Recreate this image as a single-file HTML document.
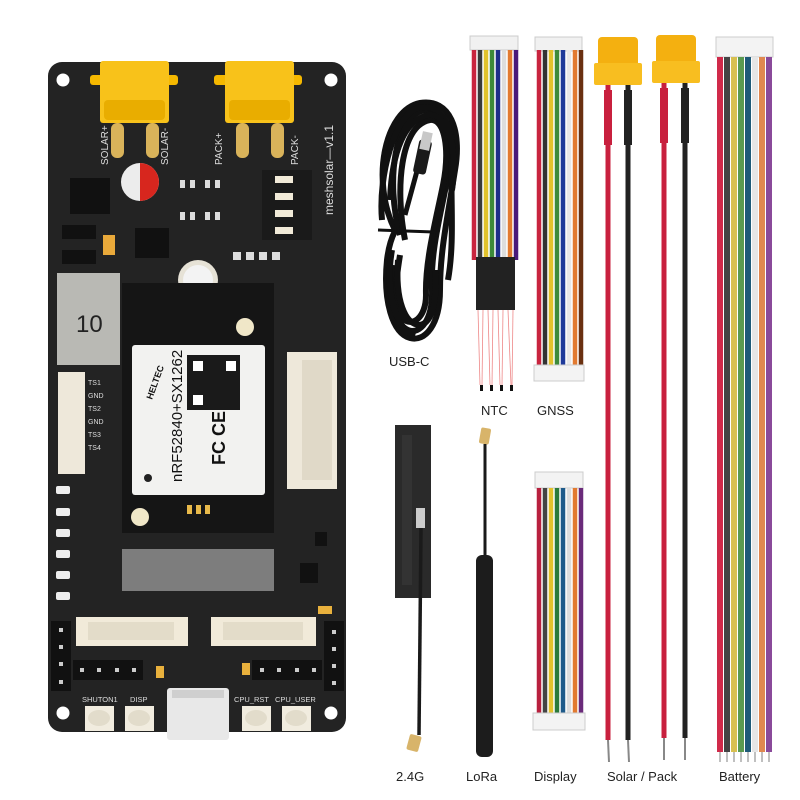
<!DOCTYPE html>
<html><head><meta charset="utf-8"><style>
html,body{margin:0;padding:0;background:#fff;}
svg{display:block;}
text{font-family:"Liberation Sans",sans-serif;}
</style></head><body>
<svg width="800" height="800" viewBox="0 0 800 800" xmlns="http://www.w3.org/2000/svg">
<rect width="800" height="800" fill="#fff"/>

<!-- BOARD -->
<rect x="48" y="62" width="298" height="670" rx="14" fill="#232323"/>
<circle cx="63" cy="80" r="6.5" fill="#fff"/><circle cx="331" cy="80" r="6.5" fill="#fff"/>
<circle cx="63" cy="713" r="6.5" fill="#fff"/><circle cx="331" cy="713" r="6.5" fill="#fff"/>

<g>
 <rect x="90" y="75" width="88" height="10" rx="3" fill="#f5b800"/>
 <rect x="100" y="61" width="69" height="62" rx="3" fill="#f8c21a"/>
 <rect x="104" y="100" width="61" height="20" rx="4" fill="#e9ad00"/>
 <rect x="111" y="123" width="13" height="35" rx="6" fill="#d9b35a"/>
 <rect x="146" y="123" width="13" height="35" rx="6" fill="#d9b35a"/>
 <rect x="214" y="75" width="88" height="10" rx="3" fill="#f5b800"/>
 <rect x="225" y="61" width="69" height="62" rx="3" fill="#f8c21a"/>
 <rect x="229" y="100" width="61" height="20" rx="4" fill="#e9ad00"/>
 <rect x="236" y="123" width="13" height="35" rx="6" fill="#d9b35a"/>
 <rect x="271" y="123" width="13" height="35" rx="6" fill="#d9b35a"/>
</g>
<text x="0" y="0" transform="translate(108,165) rotate(-90)" font-size="10" fill="#ddd">SOLAR+</text>
<text x="0" y="0" transform="translate(168,165) rotate(-90)" font-size="10" fill="#ddd">SOLAR-</text>
<text x="0" y="0" transform="translate(222,165) rotate(-90)" font-size="10" fill="#ddd">PACK+</text>
<text x="0" y="0" transform="translate(298,165) rotate(-90)" font-size="10" fill="#ddd">PACK-</text>
<text x="0" y="0" transform="translate(333,215) rotate(-90)" font-size="12" fill="#ddd">meshsolar—v1.1</text>

<rect x="70" y="178" width="40" height="36" fill="#111"/>
<rect x="62" y="225" width="34" height="14" fill="#111"/><rect x="62" y="250" width="34" height="14" fill="#111"/>
<rect x="103" y="235" width="12" height="20" fill="#e9a93a"/>
<rect x="135" y="228" width="34" height="30" fill="#111"/>
<circle cx="140" cy="182" r="19" fill="#ececec"/>
<path d="M140 163 A19 19 0 0 1 140 201 Z" fill="#d7261e"/>
<g fill="#ddd"><rect x="180" y="180" width="5" height="8"/><rect x="190" y="180" width="5" height="8"/><rect x="205" y="180" width="5" height="8"/><rect x="215" y="180" width="5" height="8"/>
<rect x="180" y="212" width="5" height="8"/><rect x="190" y="212" width="5" height="8"/><rect x="205" y="212" width="5" height="8"/><rect x="215" y="212" width="5" height="8"/>
<rect x="233" y="252" width="8" height="8"/><rect x="246" y="252" width="8" height="8"/><rect x="259" y="252" width="8" height="8"/><rect x="272" y="252" width="8" height="8"/></g>
<rect x="262" y="170" width="50" height="70" fill="#1a1a1a"/>
<g fill="#f1ead8"><rect x="275" y="176" width="18" height="7"/><rect x="275" y="193" width="18" height="7"/><rect x="275" y="210" width="18" height="7"/><rect x="275" y="227" width="18" height="7"/></g>
<rect x="57" y="273" width="63" height="92" fill="#b9b9b4"/>
<text x="76" y="332" font-size="24" fill="#222">10</text>
<circle cx="198" cy="280" r="20" fill="#e6e2d6"/><circle cx="198" cy="280" r="15" fill="#f3f3f3"/>
<rect x="122" y="283" width="152" height="250" fill="#151515"/>
<rect x="132" y="345" width="133" height="150" rx="3" fill="#f2f2f0"/>
<circle cx="245" cy="327" r="9" fill="#f0e7c8"/><circle cx="140" cy="517" r="9" fill="#f0e7c8"/>
<text x="0" y="0" transform="translate(182,482) rotate(-90)" font-size="15" fill="#111">nRF52840+SX1262</text>
<text x="0" y="0" transform="translate(152,400) rotate(-70)" font-size="9" font-weight="bold" fill="#111">HELTEC</text>
<rect x="187" y="355" width="53" height="55" fill="#1a1a1a"/>
<rect x="193" y="361" width="10" height="10" fill="#fff"/><rect x="226" y="361" width="10" height="10" fill="#fff"/><rect x="193" y="395" width="10" height="10" fill="#fff"/>
<text x="0" y="0" transform="translate(225,465) rotate(-90)" font-size="18" font-weight="bold" fill="#111">FC CE</text>
<circle cx="148" cy="478" r="4" fill="#222"/>
<g fill="#e8b94a"><rect x="187" y="505" width="5" height="9"/><rect x="196" y="505" width="5" height="9"/><rect x="205" y="505" width="5" height="9"/></g>
<rect x="122" y="549" width="152" height="42" fill="#7d7d7d"/>
<rect x="287" y="352" width="50" height="137" fill="#eee8da"/>
<rect x="302" y="360" width="30" height="120" fill="#e0d9c8"/>
<rect x="58" y="372" width="27" height="102" fill="#eee8da"/>
<g fill="#ddd" font-size="7"><text x="88" y="385">TS1</text><text x="88" y="398">GND</text><text x="88" y="411">TS2</text><text x="88" y="424">GND</text><text x="88" y="437">TS3</text><text x="88" y="450">TS4</text></g>
<g fill="#eee"><rect x="56" y="486" width="14" height="8" rx="2"/><rect x="56" y="508" width="14" height="8" rx="2"/><rect x="56" y="529" width="14" height="8" rx="2"/><rect x="56" y="550" width="14" height="8" rx="2"/><rect x="56" y="571" width="14" height="8" rx="2"/><rect x="56" y="592" width="14" height="8" rx="2"/></g>
<rect x="315" y="532" width="12" height="14" fill="#111"/><rect x="300" y="563" width="18" height="20" fill="#111"/>
<rect x="318" y="606" width="14" height="8" fill="#e9b13d"/>
<rect x="76" y="617" width="112" height="29" fill="#f1ead9"/>
<rect x="88" y="622" width="86" height="18" fill="#e3dcc9"/>
<rect x="211" y="617" width="105" height="29" fill="#f1ead9"/>
<rect x="223" y="622" width="80" height="18" fill="#e3dcc9"/>
<rect x="51" y="621" width="20" height="70" fill="#111"/>
<rect x="324" y="621" width="20" height="70" fill="#111"/>
<rect x="73" y="660" width="70" height="20" fill="#111"/>
<rect x="252" y="660" width="70" height="20" fill="#111"/>
<g fill="#ccc"><rect x="59" y="628" width="4" height="4"/><rect x="59" y="645" width="4" height="4"/><rect x="59" y="662" width="4" height="4"/><rect x="59" y="680" width="4" height="4"/>
<rect x="332" y="630" width="4" height="4"/><rect x="332" y="647" width="4" height="4"/><rect x="332" y="664" width="4" height="4"/><rect x="332" y="681" width="4" height="4"/>
<rect x="80" y="668" width="4" height="4"/><rect x="97" y="668" width="4" height="4"/><rect x="115" y="668" width="4" height="4"/><rect x="132" y="668" width="4" height="4"/>
<rect x="260" y="668" width="4" height="4"/><rect x="277" y="668" width="4" height="4"/><rect x="295" y="668" width="4" height="4"/><rect x="312" y="668" width="4" height="4"/></g>
<rect x="156" y="666" width="8" height="12" fill="#e9b13d"/><rect x="242" y="663" width="8" height="12" fill="#e9b13d"/>
<g fill="#ddd" font-size="7.5"><text x="82" y="702">SHUTON1</text><text x="130" y="702">DISP</text><text x="234" y="702">CPU_RST</text><text x="275" y="702">CPU_USER</text></g>
<rect x="167" y="688" width="62" height="52" rx="3" fill="#e8e8e8"/>
<rect x="172" y="690" width="52" height="8" fill="#cfcfcf"/>
<g><rect x="85" y="706" width="29" height="25" fill="#f1ecdf"/><ellipse cx="99" cy="718" rx="11" ry="8" fill="#e2dccb"/>
<rect x="125" y="706" width="29" height="25" fill="#f1ecdf"/><ellipse cx="139" cy="718" rx="11" ry="8" fill="#e2dccb"/>
<rect x="242" y="706" width="29" height="25" fill="#f1ecdf"/><ellipse cx="256" cy="718" rx="11" ry="8" fill="#e2dccb"/>
<rect x="282" y="706" width="29" height="25" fill="#f1ecdf"/><ellipse cx="296" cy="718" rx="11" ry="8" fill="#e2dccb"/></g>

<!-- USB-C CABLE coil -->
<g fill="none" stroke="#111" stroke-width="6">
 <path d="M395 230 C370 180,385 110,420 103 C450 98,462 130,455 170 C448 215,440 250,440 290 C440 325,425 342,410 338 C392 333,383 300,387 260 C390 235,397 230,395 230 Z"/>
 <path d="M400 235 C385 180,395 115,425 110 C448 108,455 140,448 175 C442 210,430 250,432 290 C433 320,420 335,408 330 C395 325,390 295,393 265"/>
 <path d="M405 240 C395 190,400 125,430 120 C445 118,450 150,443 185 C436 220,425 260,426 295 C426 318,412 328,402 318 C392 308,396 280,400 255"/>
 <path d="M382 220 C378 175,395 115,418 108 C440 102,455 125,452 160 C450 200,455 240,448 280"/>
 <path d="M392 250 C385 290,395 330,415 336"/>
 <path d="M390 200 C392 150,405 120,428 115 C448 112,458 150,452 190"/>
 <path d="M398 260 C395 300,405 325,420 325 C435 322,436 295,436 270"/>
</g>
<line x1="378" y1="230" x2="434" y2="232" stroke="#111" stroke-width="3"/>
<line x1="405" y1="215" x2="420" y2="160" stroke="#111" stroke-width="5"/>
<rect x="416" y="140" width="13" height="34" rx="3" fill="#1a1a1a" transform="rotate(12 422 157)"/>
<rect x="421" y="132" width="10" height="18" fill="#c8c8c8" transform="rotate(12 426 141)"/>
<text x="389" y="366" font-size="13" fill="#222">USB-C</text>

<!-- NTC -->
<rect x="470" y="36" width="48" height="14" fill="#f1f1f1" stroke="#ccc"/>
<g stroke-width="4.5">
 <line x1="474" y1="50" x2="474" y2="260" stroke="#c8243e"/>
 <line x1="480" y1="50" x2="480" y2="260" stroke="#3a3a3a"/>
 <line x1="486" y1="50" x2="486" y2="260" stroke="#e2c22c"/>
 <line x1="492" y1="50" x2="492" y2="260" stroke="#3d8a3a"/>
 <line x1="498" y1="50" x2="498" y2="260" stroke="#1e2f8a"/>
 <line x1="504" y1="50" x2="504" y2="260" stroke="#ddd"/>
 <line x1="510" y1="50" x2="510" y2="260" stroke="#e27a30"/>
 <line x1="516" y1="50" x2="516" y2="260" stroke="#4a1a7a"/>
</g>
<rect x="476" y="257" width="39" height="53" fill="#222"/>
<g stroke="#e88" stroke-width="0.8" fill="none">
 <path d="M478 310 L480 385"/><path d="M483 310 L482 385"/><path d="M488 310 L490 385"/><path d="M493 310 L492 385"/>
 <path d="M498 310 L500 385"/><path d="M503 310 L502 385"/><path d="M508 310 L511 385"/><path d="M513 310 L512 385"/>
</g>
<g fill="#111"><rect x="480" y="385" width="3" height="6"/><rect x="490" y="385" width="3" height="6"/><rect x="500" y="385" width="3" height="6"/><rect x="510" y="385" width="3" height="6"/></g>
<text x="481" y="415" font-size="13" fill="#222">NTC</text>

<!-- GNSS -->
<rect x="535" y="37" width="47" height="14" fill="#f1f1f1" stroke="#ccc"/>
<g stroke-width="4.5">
 <line x1="539" y1="50" x2="539" y2="366" stroke="#c8243e"/>
 <line x1="545" y1="50" x2="545" y2="366" stroke="#333"/>
 <line x1="551" y1="50" x2="551" y2="366" stroke="#e2c22c"/>
 <line x1="557" y1="50" x2="557" y2="366" stroke="#3d8a3a"/>
 <line x1="563" y1="50" x2="563" y2="366" stroke="#1e3a9a"/>
 <line x1="569" y1="50" x2="569" y2="366" stroke="#e8e8e8"/>
 <line x1="575" y1="50" x2="575" y2="366" stroke="#e27a30"/>
 <line x1="581" y1="50" x2="581" y2="366" stroke="#6a3010"/>
</g>
<rect x="534" y="365" width="50" height="16" fill="#f3f3f3" stroke="#ccc"/>
<text x="537" y="415" font-size="13" fill="#222">GNSS</text>

<!-- XT30 cables -->
<g>
 <rect x="598" y="37" width="40" height="30" rx="4" fill="#f4b010"/>
 <rect x="594" y="63" width="48" height="22" rx="2" fill="#f8be20"/>
 <line x1="608" y1="85" x2="608" y2="740" stroke="#c8203e" stroke-width="5"/>
 <line x1="628" y1="85" x2="628" y2="740" stroke="#222" stroke-width="5"/>
 <rect x="604" y="90" width="8" height="55" fill="#c8203e"/><rect x="624" y="90" width="8" height="55" fill="#222"/>
 <line x1="608" y1="740" x2="609" y2="762" stroke="#888" stroke-width="2"/>
 <line x1="628" y1="740" x2="629" y2="762" stroke="#888" stroke-width="2"/>
 <rect x="656" y="35" width="40" height="30" rx="4" fill="#f4b010"/>
 <rect x="652" y="61" width="48" height="22" rx="2" fill="#f8be20"/>
 <line x1="664" y1="83" x2="664" y2="738" stroke="#c8203e" stroke-width="5"/>
 <line x1="685" y1="83" x2="685" y2="738" stroke="#222" stroke-width="5"/>
 <rect x="660" y="88" width="8" height="55" fill="#c8203e"/><rect x="681" y="88" width="8" height="55" fill="#222"/>
 <line x1="664" y1="738" x2="664" y2="760" stroke="#888" stroke-width="2"/>
 <line x1="685" y1="738" x2="685" y2="760" stroke="#888" stroke-width="2"/>
</g>
<text x="607" y="781" font-size="13" fill="#222">Solar / Pack</text>

<!-- Battery -->
<rect x="716" y="37" width="57" height="20" fill="#f3f3f3" stroke="#ccc"/>
<g stroke-width="6">
 <line x1="720" y1="57" x2="720" y2="752" stroke="#d02a4a"/>
 <line x1="727" y1="57" x2="727" y2="752" stroke="#444"/>
 <line x1="734" y1="57" x2="734" y2="752" stroke="#d8c050"/>
 <line x1="741" y1="57" x2="741" y2="752" stroke="#5a9a50"/>
 <line x1="748" y1="57" x2="748" y2="752" stroke="#1e5a78"/>
 <line x1="755" y1="57" x2="755" y2="752" stroke="#e6e6e6"/>
 <line x1="762" y1="57" x2="762" y2="752" stroke="#e08850"/>
 <line x1="769" y1="57" x2="769" y2="752" stroke="#8a4a9a"/>
</g>
<g stroke="#aaa" stroke-width="1.5"><line x1="720" y1="752" x2="720" y2="762"/><line x1="727" y1="752" x2="727" y2="762"/><line x1="734" y1="752" x2="734" y2="762"/><line x1="741" y1="752" x2="741" y2="762"/><line x1="748" y1="752" x2="748" y2="762"/><line x1="755" y1="752" x2="755" y2="762"/><line x1="762" y1="752" x2="762" y2="762"/><line x1="769" y1="752" x2="769" y2="762"/></g>
<text x="719" y="781" font-size="13" fill="#222">Battery</text>

<!-- 2.4G antenna -->
<rect x="395" y="425" width="36" height="173" fill="#2a2a2a"/>
<rect x="402" y="435" width="10" height="150" fill="#333"/>
<rect x="416" y="508" width="9" height="20" fill="#ccc"/>
<line x1="421" y1="528" x2="419" y2="735" stroke="#1a1a1a" stroke-width="3.5"/>
<rect x="408" y="735" width="12" height="16" rx="2" fill="#d8b46a" transform="rotate(15 414 743)"/>
<text x="396" y="781" font-size="13" fill="#222">2.4G</text>

<!-- LoRa antenna -->
<rect x="480" y="428" width="10" height="16" rx="2" fill="#d8b46a" transform="rotate(10 485 436)"/>
<line x1="485" y1="444" x2="485" y2="560" stroke="#1a1a1a" stroke-width="3"/>
<rect x="476" y="555" width="17" height="202" rx="6" fill="#1c1c1c"/>
<text x="466" y="781" font-size="13" fill="#222">LoRa</text>

<!-- Display -->
<rect x="535" y="472" width="48" height="16" fill="#f3f3f3" stroke="#ccc"/>
<g stroke-width="4.5">
 <line x1="539" y1="488" x2="539" y2="714" stroke="#b8203e"/>
 <line x1="545" y1="488" x2="545" y2="714" stroke="#444"/>
 <line x1="551" y1="488" x2="551" y2="714" stroke="#e2c22c"/>
 <line x1="557" y1="488" x2="557" y2="714" stroke="#2a7a3a"/>
 <line x1="563" y1="488" x2="563" y2="714" stroke="#1e5a8a"/>
 <line x1="569" y1="488" x2="569" y2="714" stroke="#ddd"/>
 <line x1="575" y1="488" x2="575" y2="714" stroke="#e27a30"/>
 <line x1="581" y1="488" x2="581" y2="714" stroke="#6a2a7a"/>
</g>
<rect x="533" y="713" width="52" height="17" fill="#f3f3f3" stroke="#ccc"/>
<text x="534" y="781" font-size="13" fill="#222">Display</text>
</svg>
</body></html>
